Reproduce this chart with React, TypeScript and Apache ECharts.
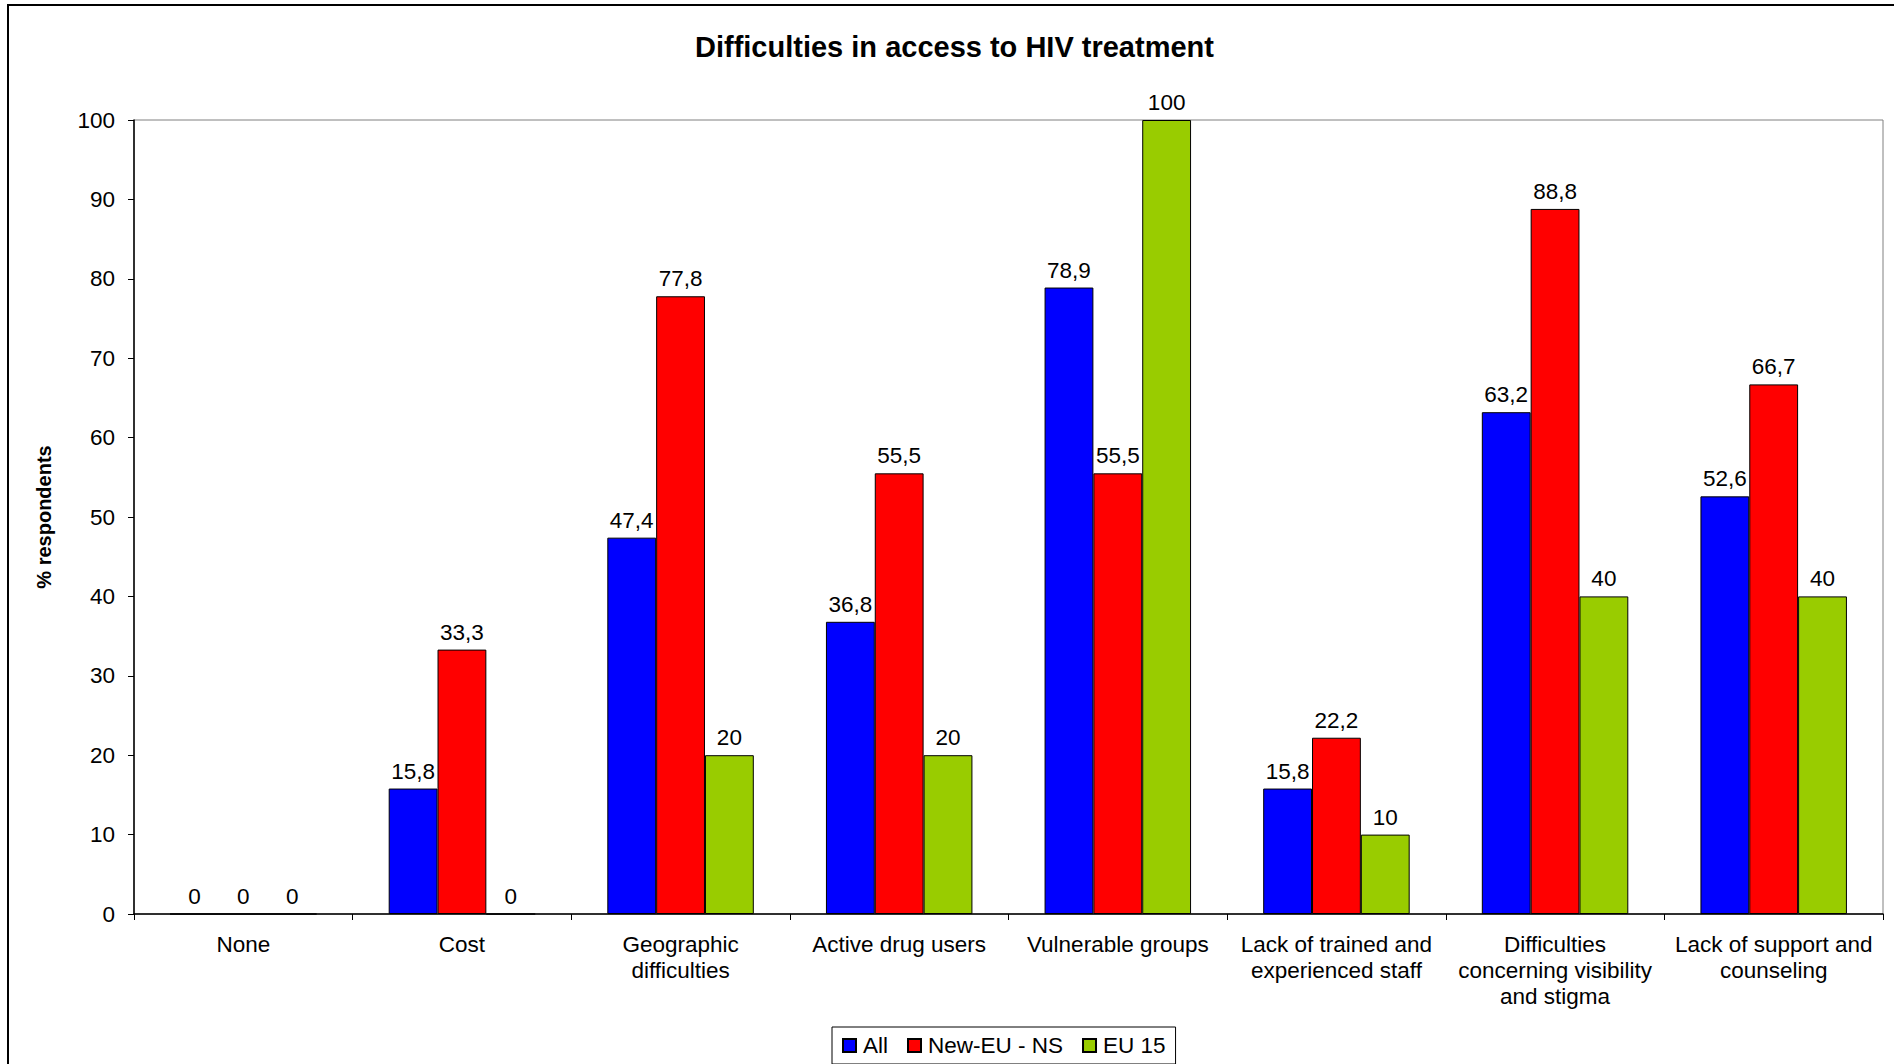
import React, { useEffect, useRef } from "react";
import * as echarts from "echarts";

const categories = [
  "None",
  "Cost",
  "Geographic\ndifficulties",
  "Active drug users",
  "Vulnerable groups",
  "Lack of trained and\nexperienced staff",
  "Difficulties\nconcerning visibility\nand stigma",
  "Lack of support and\ncounseling",
];
const seriesNames = ["All", "New-EU - NS", "EU 15"];
const allValues = [0, 15.8, 47.4, 36.8, 78.9, 15.8, 63.2, 52.6];
const newEuValues = [0, 33.3, 77.8, 55.5, 55.5, 22.2, 88.8, 66.7];
const eu15Values = [0, 0, 20, 20, 100, 10, 40, 40];
const colors = ["#0000FF", "#FF0000", "#99CC00"];
const yTicks = { min: 0, max: 100, interval: 10 };

const FONT = "'Liberation Sans', Arial, sans-serif";
const FS = 22.5;

export default function App() {
  const ref = useRef<HTMLDivElement>(null);
  useEffect(() => {
    if (!ref.current) return;
    const chart = echarts.init(ref.current, null, { renderer: "svg" });
    const data = [allValues, newEuValues, eu15Values];
    chart.setOption({
      animation: false,
      backgroundColor: "#ffffff",
      textStyle: { fontFamily: FONT },
      title: {
        text: "Difficulties in access to HIV treatment",
        left: 690,
        top: 27,
        textStyle: { fontSize: 29, fontWeight: "bold", color: "#000", fontFamily: FONT },
      },
      legend: {
        data: seriesNames,
        left: 832,
        top: 1027,
        padding: [7, 10, 7, 10],
        itemGap: 19,
        itemWidth: 13,
        itemHeight: 13,
        borderColor: "#000",
        borderWidth: 1,
        icon: "rect",
        textStyle: { fontSize: FS, color: "#000", fontFamily: FONT, padding: [0, 0, 0, 2] },
      },
      graphic: [
        {
          type: "rect",
          shape: { x: 8, y: 5, width: 2000, height: 2000 },
          style: { fill: "none", stroke: "#000", lineWidth: 2 },
          silent: true,
          z: 100,
        },
      ],
      grid: {
        left: 134,
        right: 11,
        top: 120,
        bottom: 150,
        show: true,
        borderColor: "#808080",
        borderWidth: 1,
        containLabel: false,
      },
      xAxis: {
        type: "category",
        data: categories,
        axisLine: { lineStyle: { color: "#000", width: 1.5 } },
        axisTick: { show: true, alignWithLabel: false, length: 6, lineStyle: { color: "#000" } },
        axisLabel: {
          interval: 0,
          margin: 17,
          fontSize: FS,
          lineHeight: 26,
          color: "#000",
          fontFamily: FONT,
        },
      },
      yAxis: {
        type: "value",
        min: yTicks.min,
        max: yTicks.max,
        interval: yTicks.interval,
        name: "% respondents",
        nameLocation: "middle",
        nameGap: 80,
        nameTextStyle: { fontSize: 20, fontWeight: "bold", color: "#000", fontFamily: FONT },
        axisLine: { show: true, lineStyle: { color: "#000", width: 1.5 } },
        axisTick: { show: true, length: 6, lineStyle: { color: "#000" } },
        splitLine: { show: false },
        axisLabel: { fontSize: FS, color: "#000", margin: 19, fontFamily: FONT },
      },
      series: seriesNames.map((name, i) => ({
        name,
        type: "bar",
        data: data[i],
        barGap: "0%",
        barCategoryGap: "33%",
        itemStyle: { color: colors[i], borderColor: "#000", borderWidth: 1 },
        label: {
          show: true,
          position: "top",
          distance: 6,
          fontSize: FS,
          color: "#000",
          fontFamily: FONT,
          formatter: (p: any) => String(p.value).replace(".", ","),
        },
      })),
    });
    return () => chart.dispose();
  }, []);
  return (
    <div
      ref={ref}
      style={{ position: "fixed", left: 0, top: 0, width: 1894, height: 1064 }}
    />
  );
}
